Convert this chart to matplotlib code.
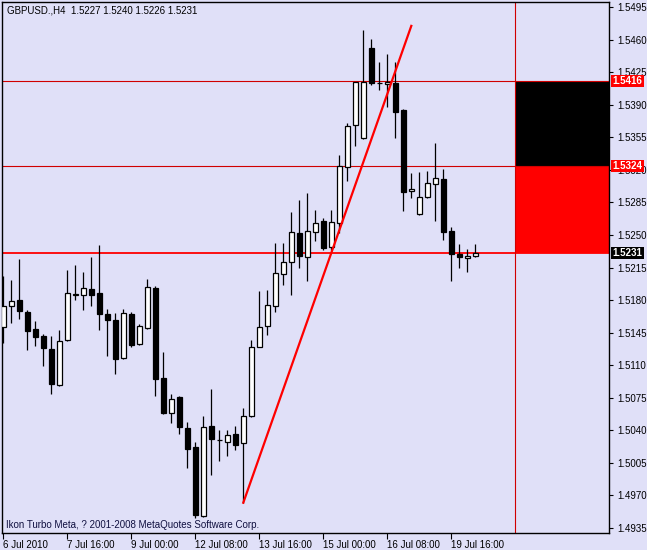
import matplotlib
matplotlib.use('Agg')
import matplotlib.pyplot as plt
import matplotlib.transforms as mtransforms
import numpy as np

plt.rcParams['font.family'] = ['Liberation Sans', 'DejaVu Sans']

# GBPUSD H4 candles (open, high, low, close)
opens = [1.5151, 1.5174, 1.5180, 1.5167, 1.5149, 1.5141, 1.5127, 1.5089, 1.5137, 1.5186,
         1.5185, 1.5192, 1.5188, 1.5165, 1.5159, 1.5118, 1.5165, 1.5133, 1.5150, 1.5193,
         1.5096, 1.5059, 1.5076, 1.5042, 1.5022, 1.4948, 1.5045, 1.5029, 1.5027, 1.5036,
         1.5026, 1.5055, 1.5130, 1.5152, 1.5174, 1.5208, 1.5221, 1.5252, 1.5226, 1.5253,
         1.5265, 1.5237, 1.5263, 1.5323, 1.5368, 1.5354, 1.5451, 1.5414, 1.5412, 1.5414,
         1.5384, 1.5297, 1.5273, 1.5291, 1.5305, 1.5310, 1.5254, 1.5230, 1.5225, 1.5227]
highs = [1.5206, 1.5202, 1.5224, 1.5169, 1.5158, 1.5144, 1.5141, 1.5148, 1.5212, 1.5218,
         1.5210, 1.5226, 1.5239, 1.5170, 1.5166, 1.5170, 1.5167, 1.5154, 1.5203, 1.5195,
         1.5124, 1.5079, 1.5077, 1.5049, 1.5027, 1.5055, 1.5084, 1.5040, 1.5040, 1.5045,
         1.5064, 1.5137, 1.5190, 1.5191, 1.5241, 1.5241, 1.5275, 1.5288, 1.5295, 1.5277,
         1.5268, 1.5277, 1.5336, 1.5370, 1.5392, 1.5471, 1.5461, 1.5436, 1.5445, 1.5436,
         1.5386, 1.5317, 1.5318, 1.5319, 1.5349, 1.5321, 1.5259, 1.5240, 1.5235, 1.5240]
lows = [1.5134, 1.5155, 1.5160, 1.5126, 1.5131, 1.5109, 1.5079, 1.5088, 1.5136, 1.5180,
        1.5169, 1.5174, 1.5148, 1.5120, 1.5100, 1.5117, 1.5129, 1.5132, 1.5149, 1.5077,
        1.5057, 1.5048, 1.5036, 1.4999, 1.4946, 1.4947, 1.4992, 1.5007, 1.5012, 1.5019,
        1.4962, 1.5054, 1.5129, 1.5142, 1.5167, 1.5196, 1.5186, 1.5215, 1.5201, 1.5244,
        1.5234, 1.5234, 1.5252, 1.5308, 1.5346, 1.5353, 1.5411, 1.5406, 1.5388, 1.5354,
        1.5276, 1.5290, 1.5272, 1.5290, 1.5265, 1.5245, 1.5200, 1.5215, 1.5210, 1.5226]
closes = [1.5174, 1.5179, 1.5168, 1.5147, 1.5140, 1.5128, 1.5090, 1.5136, 1.5188, 1.5187,
          1.5193, 1.5186, 1.5165, 1.5159, 1.5117, 1.5166, 1.5132, 1.5152, 1.5194, 1.5095,
          1.5058, 1.5074, 1.5043, 1.5020, 1.4949, 1.5043, 1.5031, 1.5029, 1.5035, 1.5024,
          1.5055, 1.5129, 1.5151, 1.5175, 1.5209, 1.5221, 1.5253, 1.5227, 1.5254, 1.5263,
          1.5236, 1.5264, 1.5324, 1.5367, 1.5415, 1.5415, 1.5414, 1.5414, 1.5415, 1.5382,
          1.5296, 1.5300, 1.5291, 1.5306, 1.5311, 1.5253, 1.5230, 1.5226, 1.5227, 1.5231]

# time axis labels (every 8 bars)
tick_bars = [0, 8, 16, 24, 32, 40, 48, 56]
tick_labels = ['6 Jul 2010', '7 Jul 16:00', '9 Jul 00:00', '12 Jul 08:00',
               '13 Jul 16:00', '15 Jul 00:00', '16 Jul 08:00', '19 Jul 16:00']

# horizontal levels and trend line
level_hi = 1.5416
level_mid = 1.5324
level_bid = 1.5231
vline_bar = 64
trend_x = [30, 51]
trend_y = [1.4962, 1.5475]

bg = '#E0E0F8'

fig = plt.figure(figsize=(6.47, 5.5), dpi=100, facecolor=bg)
ax = fig.add_axes([2 / 647, 17 / 550, 607 / 647, 531 / 550], facecolor=bg)

x = np.arange(len(opens))
o = np.array(opens)
c = np.array(closes)
bottoms = np.minimum(o, c)
heights = np.abs(c - o)
colors = ['white' if cc >= oo else 'black' for oo, cc in zip(o, c)]

# zones right of the vertical line
ax.fill_between([vline_bar, 90], level_mid, level_hi, color='black', lw=0, zorder=1)
ax.fill_between([vline_bar, 90], level_bid, level_mid, color='#FF0000', lw=0, zorder=1)

ax.axhline(level_hi, color='#D00000', lw=0.8, zorder=1.5)
ax.axhline(level_mid, color='#D00000', lw=0.8, zorder=1.5)
ax.axhline(level_bid, color='#FF0000', lw=1.3, zorder=1.5)
ax.axvline(vline_bar, color='#D00000', lw=0.8, zorder=1.5)

# candles
ax.vlines(x, lows, highs, color='black', lw=0.9, zorder=2)
ax.bar(x, heights, width=0.62, bottom=bottoms, color=colors, edgecolor='black',
       linewidth=0.9, zorder=3)

ax.plot(trend_x, trend_y, color='#FF0000', lw=1.6, zorder=4)

ax.set_xlim(-0.16, 75.71)
ax.set_ylim(1.49294, 1.55007)

# axes look
yt = np.round(np.arange(1.4935, 1.5496, 0.0035), 4)
ax.yaxis.tick_right()
ax.set_yticks(yt)
ax.set_yticklabels(['%.4f' % v for v in yt])
ax.set_xticks(tick_bars)
ax.set_xticklabels(tick_labels, ha='left')
ax.tick_params(axis='y', direction='out', length=3, width=0.8, pad=3, labelsize=7, colors='black')
ax.tick_params(axis='x', direction='out', length=4, width=0.8, pad=1, labelsize=7, colors='black')
for s in ax.spines.values():
    s.set_color('black')
    s.set_linewidth(1)

# price labels on the right
tr = mtransforms.blended_transform_factory(ax.transAxes, ax.transData)
for lvl, box in [(level_hi, '#FF0000'), (level_mid, '#FF0000'), (level_bid, 'black')]:
    ax.text(1.006, lvl, '%.4f' % lvl, transform=tr, va='center', ha='left',
            fontsize=7, fontweight='bold', color='white', clip_on=False, zorder=10,
            bbox=dict(boxstyle='square,pad=0.12', fc=box, ec='none'))

# header and footer texts
ax.text(0.009, 0.984, 'GBPUSD.,H4  %.4f %.4f %.4f %.4f' % (opens[-1], highs[-1], lows[-1], closes[-1]),
        transform=ax.transAxes, va='center', ha='left', fontsize=7, color='black')
ax.text(0.007, 0.015, 'Ikon Turbo Meta, ? 2001-2008 MetaQuotes Software Corp.',
        transform=ax.transAxes, va='center', ha='left', fontsize=7, color='#101040')

fig.savefig('out.png', dpi=100, facecolor=bg)
